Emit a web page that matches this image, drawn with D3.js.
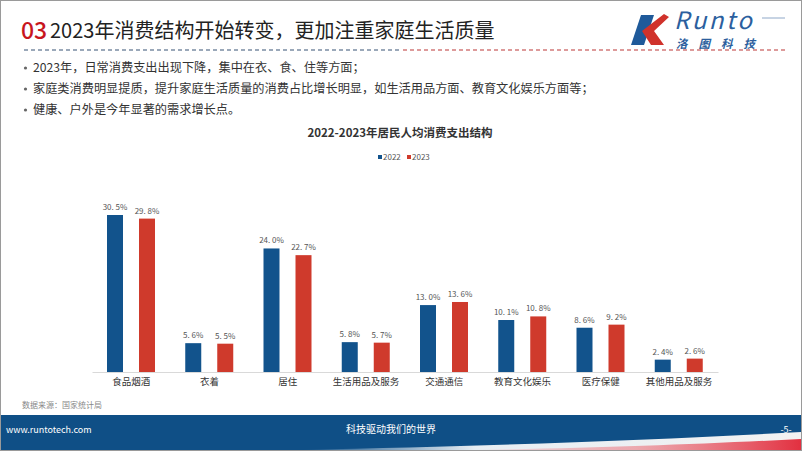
<!DOCTYPE html>
<html><head><meta charset="utf-8">
<script src="https://cdn.jsdelivr.net/npm/d3@7"></script>
<style>body{margin:0;background:#fff}svg{display:block}text{font-family:"Noto Sans CJK SC","Noto Sans",sans-serif}</style>
</head><body><svg id="c" width="802" height="451"></svg>
<script>
const categories = ["食品烟酒","衣着","居住","生活用品及服务","交通通信","教育文化娱乐","医疗保健","其他用品及服务"];
const series2022 = [30.5, 5.6, 24.0, 5.8, 13.0, 10.1, 8.6, 2.4];
const series2023 = [29.8, 5.5, 22.7, 5.7, 13.6, 10.8, 9.2, 2.6];
const seriesNames = ["2022","2023"];
const bullets = ["2023年，日常消费支出出现下降，集中在衣、食、住等方面；",
  "家庭类消费明显提质，提升家庭生活质量的消费占比增长明显，如生活用品方面、教育文化娱乐方面等；",
  "健康、户外是今年显著的需求增长点。"];

const svg = d3.select("#c");
const defs = svg.append("defs");
const W = 802, H = 451;
const colors = ["#12538c", "#cf3a2c"];

// border
svg.append("rect").attr("x",0.5).attr("y",0.5).attr("width",W-1).attr("height",H-1).attr("fill","none").attr("stroke","#9a9a9a");

// title
svg.append("text").attr("x",21).attr("y",39).attr("fill","#c8161d").attr("font-family","Roboto,Arial,sans-serif").attr("font-size",23).attr("font-weight",500).text("03");
svg.append("text").attr("x",50).attr("y",38).attr("fill","#222").attr("font-size",20).text("2023年消费结构开始转变，更加注重家庭生活质量");

// logo
const logo = svg.append("g");
logo.append("path").attr("d","M641,15 L654,15 L644,45 L631,45 Z").attr("fill","#1f5a9a");
logo.append("path").attr("d","M664,14 L669,17 L654,31 L664,45 L651,45 L642,31 Z").attr("fill","#d0322b");
logo.append("text").attr("x",674).attr("y",29).attr("fill","#2c5f9e").attr("font-family","Arial,Liberation Sans,sans-serif").attr("font-style","italic").attr("font-size",24).attr("letter-spacing",2.5).text("Runto");
logo.append("line").attr("x1",762).attr("x2",785).attr("y1",18).attr("y2",18).attr("stroke","#8fa8c8").attr("stroke-width",1);
logo.append("text").attr("x",676).attr("y",48).attr("fill","#2c5f9e").attr("font-size",11.5).attr("font-weight","bold").attr("font-style","italic").attr("letter-spacing",11).text("洛图科技");

// bullets
bullets.forEach((b,i)=>{
  const yy = 72 + i*21;
  svg.append("circle").attr("cx",25.5).attr("cy",yy-4).attr("r",1.6).attr("fill","#666");
  svg.append("text").attr("x",33).attr("y",yy).attr("fill","#333").attr("font-size",12.2).text(b);
});

// chart title + legend
svg.append("text").attr("x",400).attr("y",137).attr("text-anchor","middle").attr("fill","#333").attr("font-size",11.5).attr("font-weight","bold").text("2022-2023年居民人均消费支出结构");
const leg = svg.append("g").attr("transform","translate(378,160)");
seriesNames.forEach((s,i)=>{
  const gx = i*29;
  leg.append("rect").attr("x",gx).attr("y",-5).attr("width",4).attr("height",4).attr("fill",colors[i]);
  leg.append("text").attr("x",gx+5).attr("y",0).attr("fill","#555").attr("font-size",8).attr("font-family","Roboto,sans-serif").text(s);
});

// scales
const x0 = d3.scaleBand().domain(categories).range([92,718]);
const bw = 16;
const y = d3.scaleLinear().domain([0,30.5]).range([372,215]);

// axis baseline
const xAxis = d3.axisBottom(x0).tickSize(0).tickPadding(6);
const ax = svg.append("g").attr("transform","translate(0,372)").call(xAxis);
ax.select(".domain").attr("stroke","#d9d9d9");
ax.selectAll("text").attr("font-size",9.5).attr("fill","#333").attr("font-family",'"Noto Sans CJK SC",sans-serif');

const data = [series2022, series2023];
const fmt = v => d3.format(".1f")(v).replace(".", ". ") + "%";
data.forEach((arr,si)=>{
  const g = svg.append("g");
  categories.forEach((c,ci)=>{
    const bx = x0(c) + 15 + si*32;
    g.append("rect").attr("x",bx).attr("y",y(arr[ci])).attr("width",bw).attr("height",372-y(arr[ci])).attr("fill",colors[si]);
    g.append("text").attr("x",bx+bw/2).attr("y",y(arr[ci])-5).attr("text-anchor","middle").attr("fill","#555")
      .attr("font-size",8).attr("font-family","DejaVu Sans Mono,monospace").text(fmt(arr[ci]));
  });
});

// source
svg.append("text").attr("x",22).attr("y",408).attr("fill","#888").attr("font-size",8).text("数据来源：国家统计局");

// footer
svg.append("rect").attr("x",1).attr("y",415).attr("width",800).attr("height",35).attr("fill","#0f4f86");
const sg = defs.append("linearGradient").attr("id","sw").attr("x1","0").attr("x2","1").attr("y1","0").attr("y2","0");
sg.append("stop").attr("offset","0").attr("stop-color","#fff").attr("stop-opacity","0");
sg.append("stop").attr("offset","0.35").attr("stop-color","#ffffff").attr("stop-opacity","0.9");
sg.append("stop").attr("offset","1").attr("stop-color","#f2f2f2");
svg.append("path").attr("d","M300,450 C500,446 650,440 801,432 L801,450 Z").attr("fill","url(#sw)");
const rg = defs.append("linearGradient").attr("id","sr").attr("x1","0").attr("x2","1");
rg.append("stop").attr("offset","0").attr("stop-color","#e8505b").attr("stop-opacity","0");
rg.append("stop").attr("offset","0.5").attr("stop-color","#ec8a92").attr("stop-opacity","0.7");
rg.append("stop").attr("offset","1").attr("stop-color","#e23040");
svg.append("path").attr("d","M470,450 C600,448 700,444 801,439 L801,450 Z").attr("fill","url(#sr)");
svg.append("text").attr("x",6).attr("y",433).attr("fill","#fff").attr("font-size",9).attr("font-family","DejaVu Sans Mono,monospace").text("www.runtotech.com");
svg.append("text").attr("x",391).attr("y",433).attr("text-anchor","middle").attr("fill","#fff").attr("font-size",10).text("科技驱动我们的世界");
svg.append("text").attr("x",786).attr("y",433).attr("text-anchor","middle").attr("fill","#fff").attr("font-size",9).text("-5-");

// dashed divider under the title (drawn last, on top): grey-blue left, red right
svg.append("path").attr("d","M24,50 H400").attr("fill","none").attr("stroke","#7a8ca2").attr("stroke-width",1.5).attr("stroke-dasharray","4,3");
svg.append("path").attr("d","M403,50 H786").attr("fill","none").attr("stroke","#d27a7a").attr("stroke-width",1.5).attr("stroke-dasharray","4,3");
</script></body></html>
